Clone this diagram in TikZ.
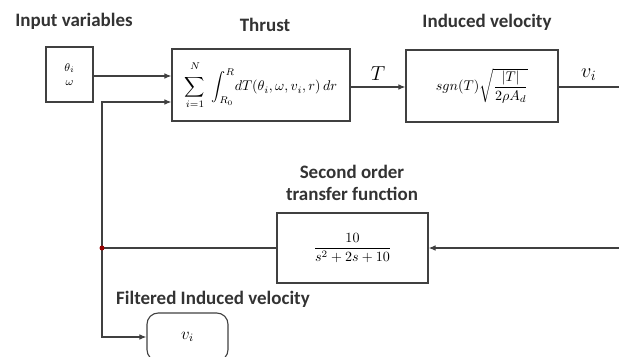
\documentclass[tikz,border=0pt]{standalone}
\usepackage{amsmath, amssymb}
\usepackage{fontspec}
\setsansfont{Carlito}
\usepackage{tikz}
\usetikzlibrary{arrows.meta, positioning, shapes.geometric, calc}

\tikzset{
    block/.style={draw, thick, draw=black!75, minimum width=#1, inner sep=2pt},
    lbl/.style={font=\sffamily\bfseries\fontsize{13.5}{16}\selectfont, text=black!80},
    ln/.style={thick, draw=black!75},
    arr/.style={ln, -{Latex[length=5pt, width=4pt]}}
}

\begin{document}
\begin{tikzpicture}[x=0.025cm, y=-0.025cm]
    \useasboundingbox (0,0) rectangle (619,356);
    \clip (0,0) rectangle (619,356);

    % blocks
    \node[block=1.175cm, minimum height=1.375cm, font=\footnotesize, align=center] (inp) at (69.5,74.5) {$\theta_i$\\[1pt]$\omega$};
    \node[block=4.45cm, minimum height=1.8cm] (thr) at (261,85) {$\displaystyle\sum_{i=1}^{\raisebox{3pt}{$\scriptstyle N$}}\;\int_{R_0}^{R}\! dT(\theta_i,\omega,v_i,r)\,dr$};
    \node[block=3.8cm, minimum height=1.8cm] (ind) at (482,86) {$sgn(T)\sqrt{\dfrac{|T|}{2\rho A_d}}$};
    \node[block=3.775cm, minimum height=1.75cm] (tf) at (352.5,248) {$\dfrac{10}{s^2+2s+10}$};
    \node[block=2.025cm, minimum height=1.2cm, rounded corners=8pt, font=\large] (out) at (187.5,337) {$v_i$};

    % labels
    \node[lbl] (linp) at (74,21) {Input variables};
    \node[lbl] (lthr) at (265,25) {Thrust};
    \node[lbl] (lind) at (487,22) {Induced velocity};
    \node[lbl, align=center] (ltf) at (352,183) {Second order\\transfer function};
    \node[lbl] (lout) at (213,299) {Filtered Induced velocity};

    % coordinates
    \coordinate (fb) at (102,248);
    \coordinate (vend) at (619,87);
    \coordinate (fin) at (619,248);

    % connections
    \draw[arr] (inp.east |- 0,76) -- (thr.west |- 0,76);
    \draw[arr] (fb) |- (thr.west |- 0,102);
    \draw[arr] (thr.east |- 0,87) -- node[above=1pt, font=\Large] (lT) {$T$} (ind.west |- 0,87);
    \draw[ln] (ind.east |- 0,87) -- node[above=1pt, font=\Large] (lv) {$v_i$} (vend);
    \draw[arr] (fin) -- (tf.east);
    \draw[ln] (tf.west) -- (fb);
    \draw[arr] (fb) |- (out.west);
    \fill[red!60!black] (fb) circle (2.5);
\end{tikzpicture}
\end{document}
